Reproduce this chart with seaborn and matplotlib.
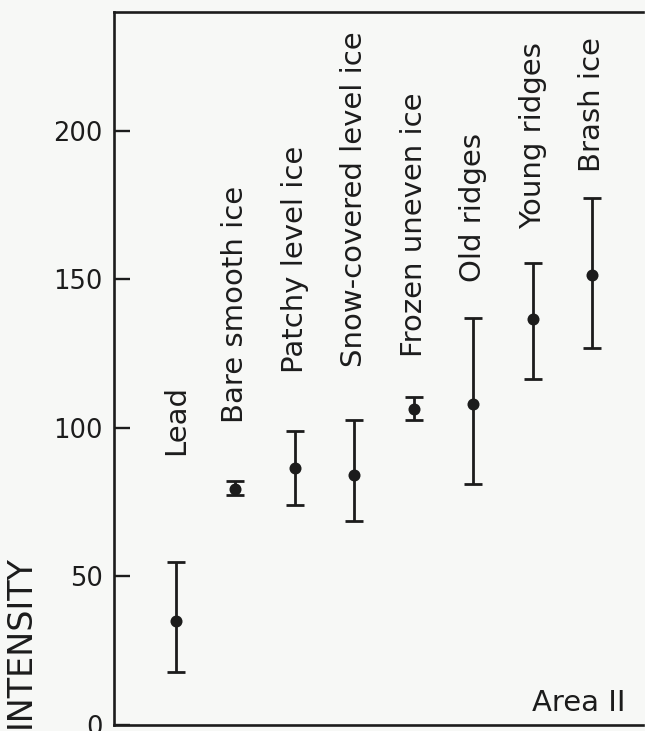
import matplotlib
matplotlib.use("Agg")
import matplotlib.pyplot as plt
import seaborn as sns
import pandas as pd
import numpy as np

categories = ["Lead", "Bare smooth ice", "Patchy level ice", "Snow-covered level ice",
              "Frozen uneven ice", "Old ridges", "Young ridges", "Brash ice"]
mean_vals = [35, 79.5, 86.5, 84, 106.5, 108, 136.5, 151.5]
upper_vals = [55, 82, 99, 102.5, 110.5, 137, 155.5, 177.5]
lower_vals = [18, 77.5, 74, 68.5, 102.5, 81, 116.5, 127]
label_bottoms = [91, 101.5, 118.5, 120.5, 124, 149, 167, 186]
y_ticks = [0, 50, 100, 150, 200]

sns.set_style("white")
plt.rcParams["font.family"] = ["DejaVu Sans"]

ink = "#1c1c1c"
bg = "#f7f8f6"

df = pd.DataFrame({"pos": np.arange(len(categories)), "mean": mean_vals,
                   "upper": upper_vals, "lower": lower_vals, "cat": categories})

fig = plt.figure(figsize=(6.45, 7.31), dpi=100, facecolor=bg)
ax = fig.add_axes([114 / 645, 6 / 731, (643 - 114) / 645, (725 - 12) / 731])
ax.set_facecolor(bg)

yerr = np.array([df["mean"] - df["lower"], df["upper"] - df["mean"]])
ax.errorbar(df["pos"], df["mean"], yerr=yerr, fmt="none", ecolor=ink,
            elinewidth=2.0, capsize=6.5, capthick=2.0, zorder=2)
sns.scatterplot(data=df, x="pos", y="mean", ax=ax, color=ink, s=75,
                edgecolor=ink, linewidth=0, zorder=3, legend=False)

for i, (cat, yb) in enumerate(zip(categories, label_bottoms)):
    ax.text(i, yb, cat, rotation=90, ha="center", va="bottom",
            fontsize=21, color=ink)

ax.text(7.55, 4.7, "Area II", ha="right", va="baseline", fontsize=21, color=ink)

ax.set_xlim(-1.04, 7.85)
ax.set_ylim(0, 240)
ax.set_yticks(y_ticks)
ax.set_yticklabels([str(t) for t in y_ticks])
ax.set_xticks([])
ax.set_xlabel("")
ax.set_ylabel("")
ax.tick_params(axis="y", direction="in", length=11.5, width=1.7, color=ink,
               labelsize=18.5, labelcolor=ink, pad=8, left=True)
for side in ["left", "top", "bottom"]:
    ax.spines[side].set_color(ink)
    ax.spines[side].set_linewidth(1.9)
ax.spines["right"].set_visible(False)

fig.text(20 / 645, (731 - 555) / 731, "INTENSITY", rotation=90, ha="center",
         va="top", fontsize=24, color=ink)

fig.savefig("out.png", dpi=100, facecolor=bg)
